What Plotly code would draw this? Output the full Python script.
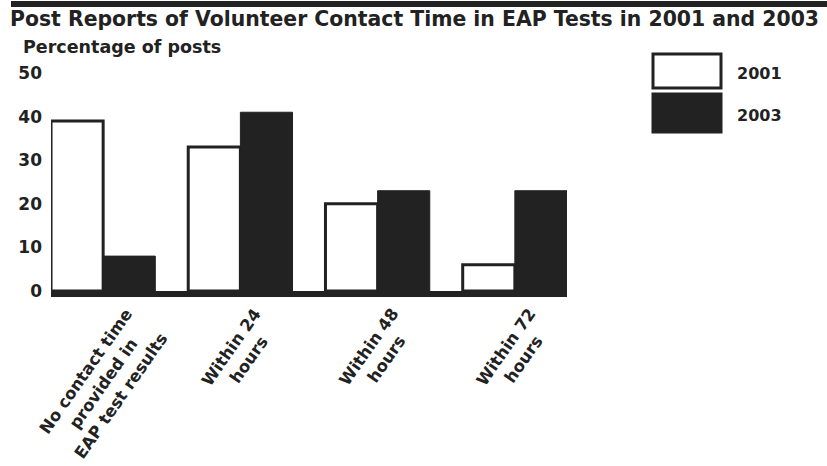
import plotly.graph_objects as go

categories = ["No contact time<br>provided in<br>EAP test results",
              "Within 24<br>hours", "Within 48<br>hours", "Within 72<br>hours"]
years = ["2001", "2003"]
values_2001 = [39, 33, 20, 6]
values_2003 = [8, 41, 23, 23]
y_ticks = [0, 10, 20, 30, 40, 50]

W, H = 827, 466
L, R, T, B = 51, 567, 73, 291  # plot area in pixels
INK = "#222222"
FONT = "DejaVu Sans"

def px(x):
    return (x - L) / (R - L)

def py(y):
    return (B - y) / (B - T)

xs = list(range(len(categories)))

fig = go.Figure()
fig.add_trace(go.Bar(x=xs, y=values_2001, name=years[0],
                     marker=dict(color="white", line=dict(color=INK, width=3))))
fig.add_trace(go.Bar(x=xs, y=values_2003, name=years[1],
                     marker=dict(color=INK, line=dict(color=INK, width=1))))

annotations = []
# category labels (rotated)
for i, c in enumerate(categories):
    annotations.append(dict(x=i, xref="x", y=py(302), yref="paper", text=c,
                            showarrow=False, textangle=-55, xanchor="center",
                            yanchor="top", align="center",
                            font=dict(family=FONT, size=16.5, color=INK, weight="bold")))
# y-axis title
annotations.append(dict(x=px(21), y=py(47), xref="paper", yref="paper",
                        text="Percentage of posts", showarrow=False,
                        xanchor="left", yanchor="middle",
                        font=dict(family=FONT, size=17.5, color=INK, weight="bold")))

shapes = [dict(type="rect", xref="paper", yref="paper",
               x0=px(11), x1=px(827), y0=py(1), y1=py(7),
               fillcolor=INK, line=dict(width=0), layer="above")]

# legend drawn as boxes with labels
leg_boxes = [(53, 89), (93, 133)]
for yr, (y0, y1), fill in zip(years, leg_boxes, ["white", INK]):
    shapes.append(dict(type="rect", xref="paper", yref="paper",
                       x0=px(653), x1=px(721), y0=py(y0 + 1), y1=py(y1 - 1),
                       fillcolor=fill, line=dict(color=INK, width=3)))
    annotations.append(dict(x=px(735), y=py((y0 + y1) / 2 + 2), xref="paper", yref="paper",
                            text=yr, showarrow=False, xanchor="left", yanchor="middle",
                            font=dict(family=FONT, size=16, color=INK, weight="bold")))

fig.update_layout(
    width=W, height=H,
    margin=dict(l=L, r=W - R, t=T, b=H - B, pad=0),
    paper_bgcolor="white", plot_bgcolor="white",
    barmode="group", bargap=0.24, bargroupgap=0,
    showlegend=False,
    title=dict(text="Post Reports of Volunteer Contact Time in EAP Tests in 2001 and 2003",
               x=10 / W, xanchor="left", xref="container",
               y=1 - 19 / H, yanchor="middle", yref="container",
               font=dict(family=FONT, size=20.4, color=INK, weight="bold")),
    xaxis=dict(range=[-0.38, 3.38], showticklabels=False, ticks="",
               showgrid=False, zeroline=False, automargin=False,
               showline=True, linecolor=INK, linewidth=6),
    yaxis=dict(range=[0, 50], tickvals=y_ticks, ticks="", showgrid=False,
               zeroline=False, showline=False, ticklabelstandoff=8, automargin=False,
               tickfont=dict(family=FONT, size=17, color=INK, weight="bold")),
    annotations=annotations,
    shapes=shapes,
)

fig.write_html("out.html", config={"displayModeBar": False},
               post_script="document.body.style.margin='0';document.body.style.padding='0';")
